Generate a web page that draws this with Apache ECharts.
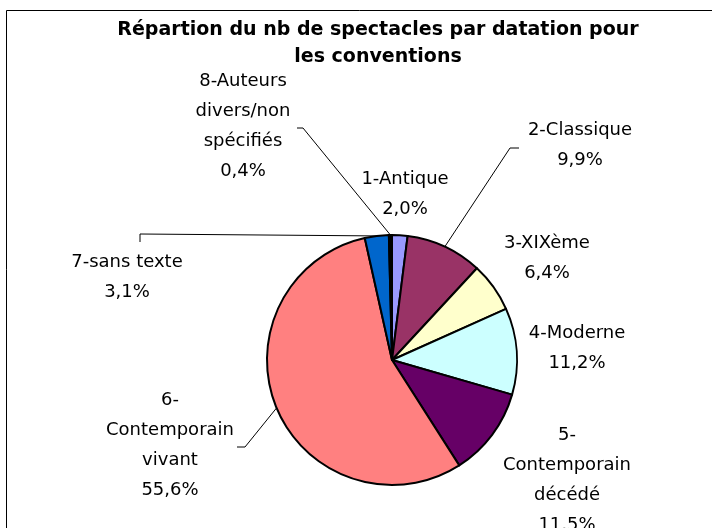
<!DOCTYPE html>
<html>
<head>
<meta charset="utf-8">
<script src="https://cdn.jsdelivr.net/npm/echarts@6/dist/echarts.min.js"></script>
<style>
  html, body { margin: 0; padding: 0; background: #ffffff; }
  #chart { width: 712px; height: 528px; }
</style>
</head>
<body>
<div id="chart"></div>
<script>
// Share of performances by period (percent), clockwise from 12 o'clock
const categories = [
  '1-Antique',
  '2-Classique',
  '3-XIXème',
  '4-Moderne',
  '5-\nContemporain\ndécédé',
  '6-\nContemporain\nvivant',
  '7-sans texte',
  '8-Auteurs\ndivers/non\nspécifiés'
];
const shares = [2.0, 9.9, 6.4, 11.2, 11.5, 55.6, 3.1, 0.4];
const sliceColors = ['#9999FF', '#993366', '#FFFFCC', '#CCFFFF', '#660066', '#FF8080', '#0066CC', '#000000'];
const titleLines = ['Répartion du nb de spectacles par datation pour', 'les conventions'];

// Label block centres and, where a leader line is drawn, its elbow and end
const labelPlacement = [
  { x: 405, y: 194 },
  { x: 580, y: 145, elbow: [510, 148], end: [519, 148] },
  { x: 547, y: 258 },
  { x: 577, y: 348 },
  { x: 567, y: 480 },
  { x: 170, y: 445, elbow: [245, 447], end: [237, 447] },
  { x: 127, y: 277, elbow: [140, 234], end: [140, 242] },
  { x: 243, y: 126, elbow: [303, 128], end: [297, 128] }
];

const pieCenter = [392, 360];
const pieRadius = 125;
const FONT = 'DejaVu Sans';

function formatShare(v) {
  return v.toFixed(1).replace('.', ',') + '%';
}

// Point on the outer rim at the middle angle of slice i (fallback for the leader line start)
function rimPoint(i) {
  const total = shares.reduce((a, b) => a + b, 0);
  let before = 0;
  for (let k = 0; k < i; k++) before += shares[k];
  const mid = (before + shares[i] / 2) / total * 2 * Math.PI;
  return [pieCenter[0] + pieRadius * Math.sin(mid), pieCenter[1] - pieRadius * Math.cos(mid)];
}

const chart = echarts.init(document.getElementById('chart'), null, { renderer: 'canvas' });

chart.setOption({
  backgroundColor: '#ffffff',
  animation: false,
  title: {
    text: titleLines.join('\n'),
    left: 378,
    top: 17,
    padding: 0,
    textAlign: 'center',
    textStyle: {
      fontFamily: FONT,
      fontSize: 19,
      fontWeight: 'bold',
      color: '#000000',
      lineHeight: 27
    }
  },
  graphic: [
    {
      type: 'rect',
      silent: true,
      shape: { x: 6.5, y: 10.5, width: 800, height: 700 },
      style: { fill: null, stroke: '#000000', lineWidth: 1 },
      z: 0
    }
  ],
  series: [
    {
      type: 'pie',
      center: pieCenter,
      radius: [0, pieRadius],
      startAngle: 90,
      clockwise: true,
      avoidLabelOverlap: false,
      itemStyle: { borderColor: '#000000', borderWidth: 2 },
      label: {
        show: true,
        position: 'outside',
        fontFamily: FONT,
        fontSize: 18,
        lineHeight: 30,
        color: '#000000',
        align: 'center',
        formatter: (p) => p.name + '\n' + formatShare(p.value)
      },
      labelLine: {
        show: true,
        length: 10,
        length2: 10,
        lineStyle: { color: '#000000', width: 1 }
      },
      labelLayout: (params) => {
        const i = params.dataIndex;
        const place = labelPlacement[i];
        const out = { x: place.x, y: place.y, align: 'center', verticalAlign: 'middle' };
        if (place.elbow) {
          const start = (params.labelLinePoints && params.labelLinePoints[0]) || rimPoint(i);
          out.labelLinePoints = [start, place.elbow, place.end];
        }
        return out;
      },
      emphasis: { disabled: true },
      data: categories.map((name, i) => ({
        name: name,
        value: shares[i],
        itemStyle: { color: sliceColors[i] },
        labelLine: { show: !!labelPlacement[i].elbow }
      }))
    }
  ]
});
</script>
</body>
</html>
